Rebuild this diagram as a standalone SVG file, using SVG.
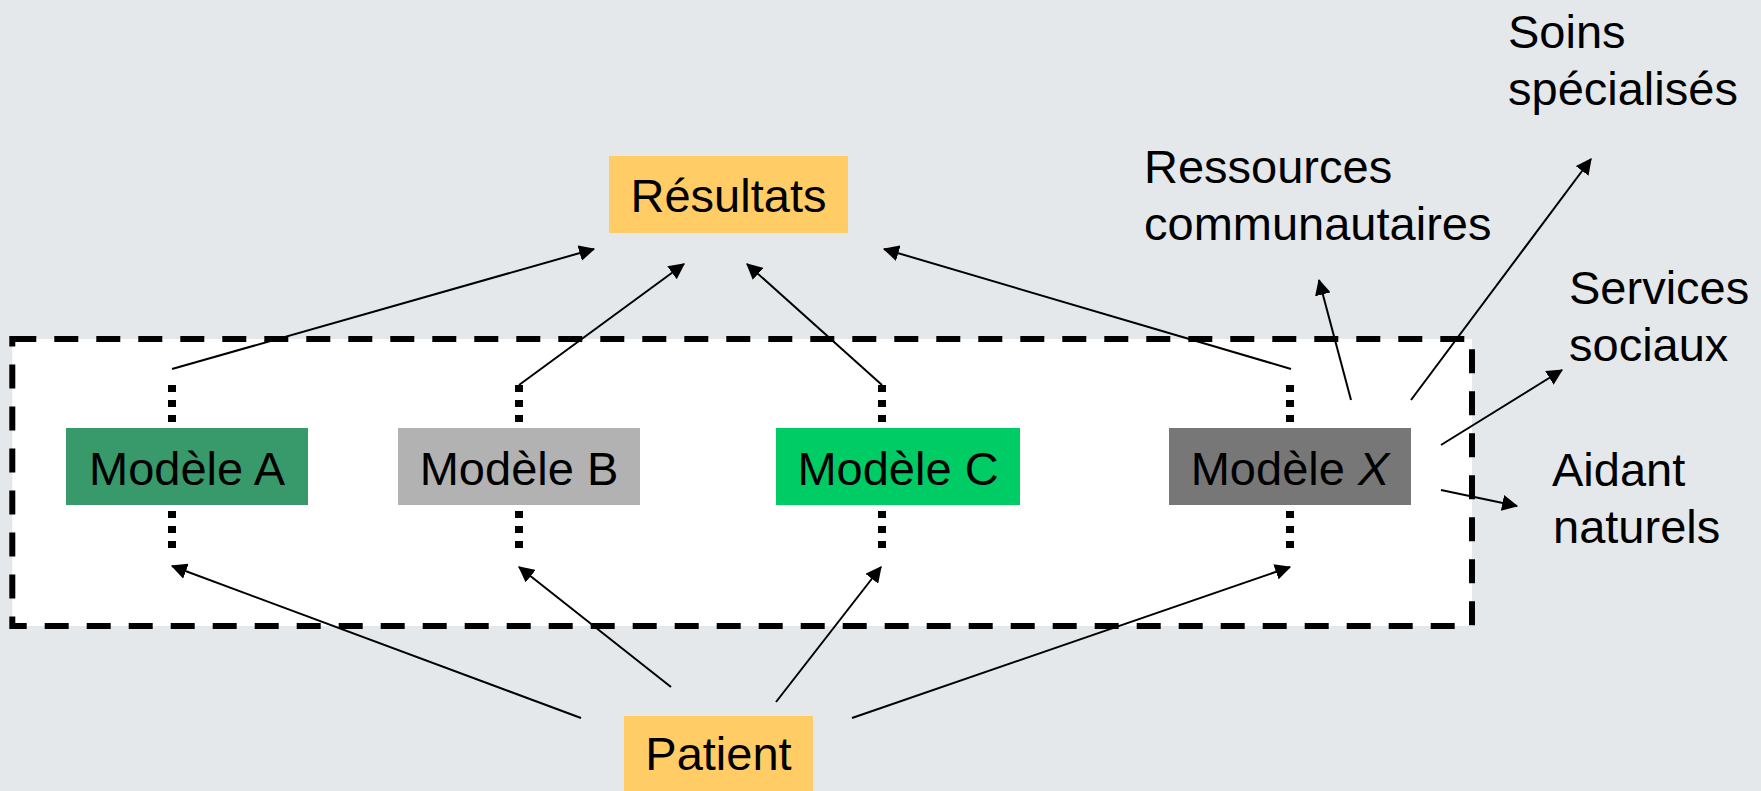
<svg xmlns="http://www.w3.org/2000/svg" width="1761" height="791" viewBox="0 0 1761 791">
  <defs>
    <marker id="arr" markerUnits="userSpaceOnUse" markerWidth="16" markerHeight="16" viewBox="0 0 14 14" refX="13" refY="7" orient="auto">
      <path d="M0,0 L14,7 L0,14 z" fill="#000"/>
    </marker>
  </defs>
  <style>
    text { font-family: "Liberation Sans", Arial, sans-serif; font-size: 47px; fill: #000; }
    .c { text-anchor: middle; }
    .conn { stroke: #000; stroke-width: 2; fill: none; marker-end: url(#arr); }
    .dot { stroke: #000; stroke-width: 8; stroke-dasharray: 7 8; fill: none; }
  </style>
  <rect x="0" y="0" width="1761" height="791" fill="#E4E8EB"/>
  <g id="frame">
    <rect x="12.3" y="339" width="1459.7" height="287" fill="#FFFFFF" stroke="#000" stroke-width="6" stroke-dasharray="24 18"/>
  </g>
  <g id="dotted">
    <path class="dot" d="M172,385 V424 M172,511 V551 M519,385 V424 M519,511 V551 M882,385 V424 M882,511 V551 M1290,385 V424 M1290,511 V551"/>
  </g>
  <g id="connectors">
    <line class="conn" x1="172" y1="369" x2="594" y2="249"/>
    <line class="conn" x1="519" y1="385" x2="684" y2="264"/>
    <line class="conn" x1="882" y1="385" x2="747" y2="264"/>
    <line class="conn" x1="1291" y1="369" x2="884" y2="249"/>
    <line class="conn" x1="581" y1="718" x2="172" y2="566"/>
    <line class="conn" x1="671" y1="687" x2="519" y2="567"/>
    <line class="conn" x1="776" y1="702" x2="881" y2="567"/>
    <line class="conn" x1="852" y1="718" x2="1290" y2="567"/>
    <line class="conn" x1="1351" y1="400" x2="1319" y2="280"/>
    <line class="conn" x1="1411" y1="400" x2="1591" y2="159"/>
    <line class="conn" x1="1441" y1="445" x2="1562" y2="370"/>
    <line class="conn" x1="1441" y1="490" x2="1517" y2="506"/>
  </g>
  <g id="resultats">
    <rect x="609" y="156" width="239" height="77" fill="#FFCC66"/>
    <text class="c" x="728.5" y="212">Résultats</text>
  </g>
  <g id="patient">
    <rect x="624" y="716" width="189" height="75" fill="#FFCC66"/>
    <text class="c" x="718.5" y="770">Patient</text>
  </g>
  <g id="modeleA">
    <rect x="66" y="428" width="242" height="77" fill="#38996B"/>
    <text class="c" x="187" y="485">Modèle A</text>
  </g>
  <g id="modeleB">
    <rect x="398" y="428" width="242" height="77" fill="#B2B2B2"/>
    <text class="c" x="519" y="485">Modèle B</text>
  </g>
  <g id="modeleC">
    <rect x="776" y="428" width="244" height="77" fill="#00CC66"/>
    <text class="c" x="898" y="485">Modèle C</text>
  </g>
  <g id="modeleX">
    <rect x="1169" y="428" width="242" height="77" fill="#777777"/>
    <text class="c" x="1290" y="485">Modèle <tspan font-style="italic">X</tspan></text>
  </g>
  <g id="soins">
    <text x="1508" y="48">Soins</text>
    <text x="1508" y="105">spécialisés</text>
  </g>
  <g id="ressources">
    <text x="1144" y="183">Ressources</text>
    <text x="1144" y="240">communautaires</text>
  </g>
  <g id="services">
    <text x="1569" y="304">Services</text>
    <text x="1569" y="361">sociaux</text>
  </g>
  <g id="aidant">
    <text x="1552" y="486">Aidant</text>
    <text x="1553" y="543">naturels</text>
  </g>
</svg>
